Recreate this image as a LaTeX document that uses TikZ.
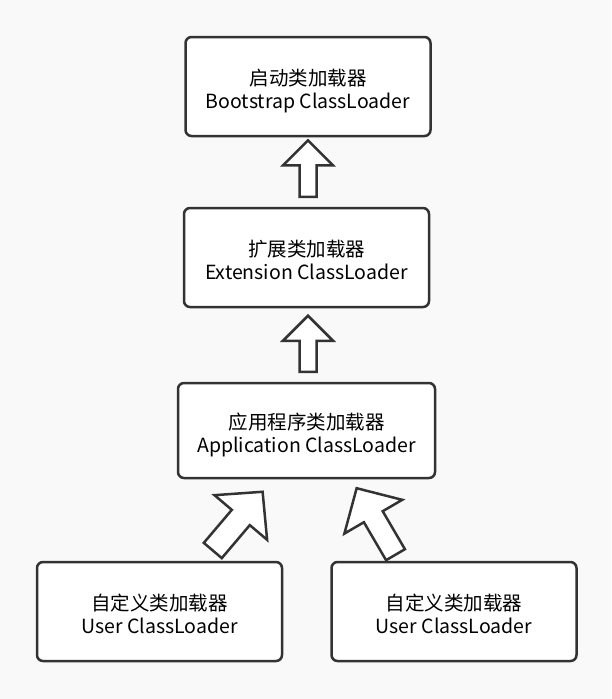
\documentclass[tikz,border=0pt]{standalone}
\usepackage{fontspec}
\setmainfont{Noto Sans CJK SC}
\usetikzlibrary{calc}
\definecolor{edge}{HTML}{333333}
\definecolor{paper}{HTML}{F9F9F9}

\begin{document}
\begin{tikzpicture}[
    x=1pt, y=-1pt, font=\fontsize{19.5}{23}\selectfont,
    loader/.style={draw=edge, fill=white, line width=2.5pt, rounded corners=6pt,
        align=center, inner sep=0pt, text height=44pt, text depth=0pt,
        minimum width=245pt, minimum height=99pt},
    hollow/.style={draw=edge, fill=white, line width=2.5pt, line join=miter}
]
    \fill[paper] (0,0) rectangle (611,699);
    \useasboundingbox (0,0) rectangle (611,699);

    \node[loader] (boot) at (308,86.5) {启动类加载器\\Bootstrap ClassLoader};
    \node[loader] (ext)  at (306.5,257.5) {扩展类加载器\\Extension ClassLoader};
    \node[loader, minimum width=257pt, minimum height=95pt] (app) at (306.5,430.5)
        {应用程序类加载器\\Application ClassLoader};
    \node[loader] (user1) at (159.5,611.5) {自定义类加载器\\User ClassLoader};
    \node[loader] (user2) at (454,611.5)   {自定义类加载器\\User ClassLoader};

    % tails of the hollow arrows
    \coordinate (t1) at ($(ext.north)+(1.5,-10)$);
    \coordinate (t2) at ($(app.north)+(1.5,-10)$);
    \coordinate (t3) at (212.8,550.5);
    \coordinate (t4) at (395.5,554.7);

    % tail / angle / length / shaft / head / head length
    \foreach \t/\a/\l/\w/\H/\h in {t1/90/56.3/8.5/25/25, t2/90/56/8.5/25/25,
                                   t3/49.7/77/11.8/34.5/33.7, t4/120.3/77/10.9/33.5/33}
        \draw[hollow, shift={(\t)}, rotate=\a]
            (0,-\w) -- ({\l-\h},-\w) -- ({\l-\h},-\H) -- (\l,0)
            -- ({\l-\h},\H) -- ({\l-\h},\w) -- (0,\w) -- cycle;
\end{tikzpicture}
\end{document}
